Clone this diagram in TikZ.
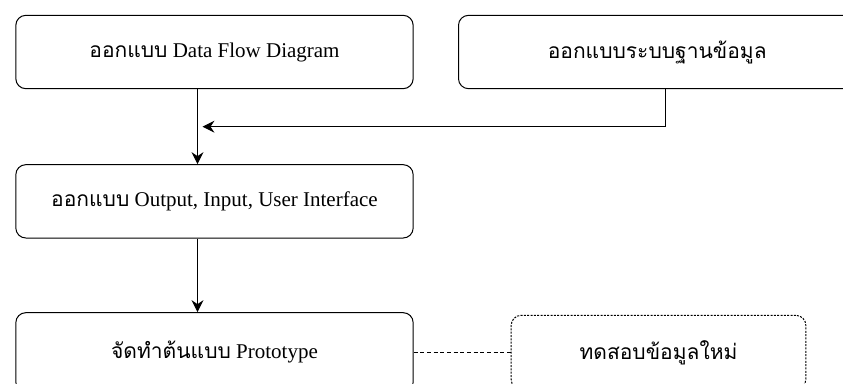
\documentclass[tikz,border=0pt]{standalone}
\usepackage{fontspec}
\setmainfont{Liberation Serif}
\newfontfamily\thai[Script=Thai]{Loma}
\usetikzlibrary{calc}
\usetikzlibrary{shapes,arrows.meta,positioning}

\begin{document}
\begin{tikzpicture}[x=0.75pt,y=-0.75pt,
     block/.style = {draw, rectangle, rounded corners=7.5pt, line width=0.75pt,
      minimum width=298pt, minimum height=55pt, font=\fontsize{15.75pt}{19pt}\selectfont},
     trial/.style = {block, dash pattern=on 1.5pt off 1pt, minimum width=221pt, minimum height=55.5pt},
     arrow/.style={draw, line width=0.75pt, -{Stealth[length=9pt,width=9pt,inset=3pt]}},
     link/.style={draw, line width=0.75pt, dash pattern=on 3pt off 2pt}
    ]
    \useasboundingbox (0,0) rectangle (843,383);
    \clip (0,0) rectangle (843,383);

    \node [block] (dfd) at (214.5,52) {{\thai ออกแบบ} Data Flow Diagram};
    \node [block, right of=dfd, node distance=332pt] (db) {{\thai ออกแบบระบบฐานข้อมูล}};
    \node [block, below of=dfd, node distance=112pt] (ui) {{\thai ออกแบบ} Output, Input, User Interface};
    \node [block, below of=ui, node distance=113.25pt, minimum height=59.5pt] (proto) {{\thai จัดทำต้นแบบ} Prototype};
    \node [trial, right of=proto, node distance=333pt] (test) {{\thai ทดสอบข้อมูลใหม่}};

    \coordinate (j) at ($([xshift=-12.75pt]dfd.south)!0.5!([xshift=-12.75pt]ui.north)+(5,0)$);

    \draw[arrow] ([xshift=-12.75pt]dfd.south) -- ([xshift=-12.75pt]ui.north);
    \draw[arrow] ([xshift=6pt]db.south) |- (j);
    \draw[arrow] ([xshift=-12.75pt]ui.south) -- ([xshift=-12.75pt]proto.north);
    \draw[link] (proto) -- (test);
\end{tikzpicture}
\end{document}
